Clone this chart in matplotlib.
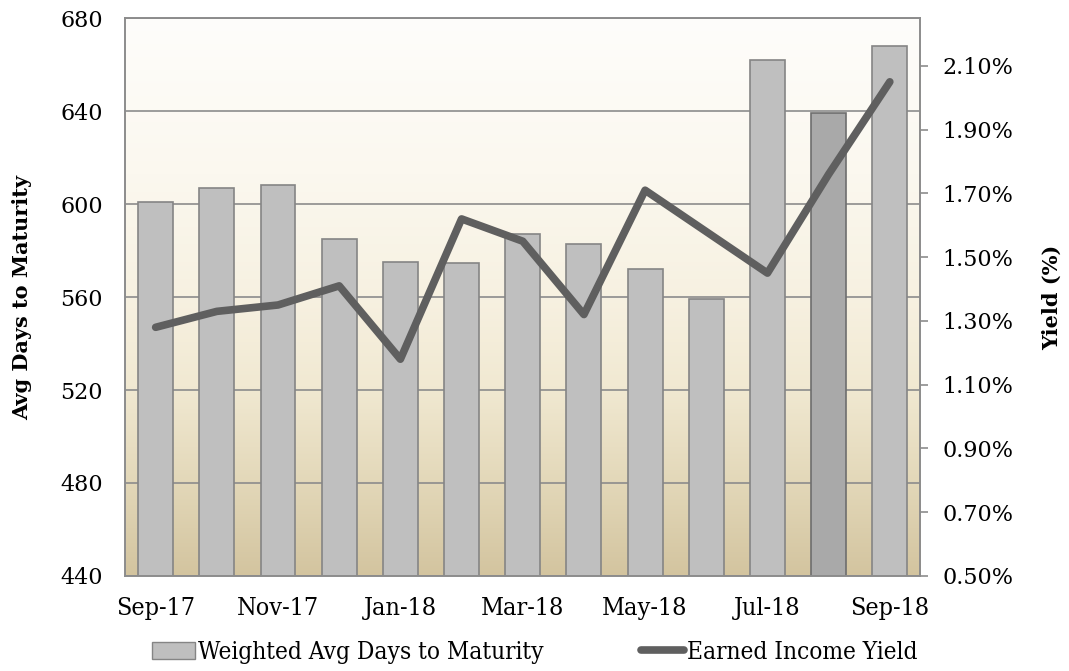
import numpy as np
import matplotlib.pyplot as plt
from matplotlib.colors import LinearSegmentedColormap
from matplotlib.patches import Patch
from matplotlib.lines import Line2D

months = ['Sep-17', 'Oct-17', 'Nov-17', 'Dec-17', 'Jan-18', 'Feb-18', 'Mar-18',
          'Apr-18', 'May-18', 'Jun-18', 'Jul-18', 'Aug-18', 'Sep-18']
days = [601, 607, 608, 585, 575, 574.5, 587, 583, 572, 559, 662, 639, 668]
yield_pct = [1.28, 1.33, 1.35, 1.41, 1.18, 1.62, 1.55, 1.32, 1.71, 1.58, 1.45, 1.76, 2.05]
yield_ticks = [0.5, 0.7, 0.9, 1.1, 1.3, 1.5, 1.7, 1.9, 2.1]

serif = 'DejaVu Serif'
cond = {'family': 'DejaVu Serif', 'stretch': 'condensed'}

fig = plt.figure(figsize=(10.69, 6.71), dpi=100)
ax = fig.add_axes([0.117, 0.1416, 0.744, 0.8315])
ax2 = ax.twinx()

# background gradient, white at top to tan at bottom
cmap = LinearSegmentedColormap.from_list('bg', [
    (0.0, '#d3c49f'), (0.17, '#e3d8b9'), (0.34, '#f1e9d2'),
    (0.5, '#f7f1e1'), (0.72, '#fbf8ef'), (1.0, '#fefdfb')], N=1024)
grad = np.linspace(0, 1, 1024).reshape(-1, 1)
ax.imshow(grad, cmap=cmap, origin='lower', aspect='auto', extent=[0, 1, 0, 1],
          transform=ax.transAxes, interpolation='bilinear', zorder=-1)

x = np.arange(len(months))
colors = ['#bfbfbf'] * len(months)
edges = ['#858585'] * len(months)
colors[11] = '#a9a9a9'
edges[11] = '#6e6e6e'
ax.bar(x, days, width=0.57, color=colors, edgecolor=edges, linewidth=1.2, zorder=2)

ax.set_xlim(-0.5, len(months) - 0.5)
ax.set_ylim(440, 680)
ax.set_yticks(np.arange(440, 681, 40))
ax.yaxis.grid(True, color='#8c8c8c', linewidth=1.2, zorder=1)
ax.set_axisbelow(True)
ax.set_xticks(x[::2])
ax.set_xticklabels(months[::2], fontsize=18, **cond)
ax.tick_params(axis='x', length=0, pad=15)
ax.tick_params(axis='y', length=0, pad=16)
for lab in ax.get_yticklabels():
    lab.set_family(serif)
    lab.set_fontsize(16)
ax.set_ylabel('Avg Days to Maturity', family=serif, fontsize=15, fontweight='bold', labelpad=20)

ax2.plot(x, yield_pct, color='#5f5f5f', linewidth=5.5, solid_capstyle='round', zorder=3)
ax2.set_ylim(0.5, 2.25)
ax2.set_yticks(yield_ticks)
ax2.set_yticklabels(['{:.2f}%'.format(v) for v in yield_ticks], family=serif, fontsize=16)
ax2.tick_params(axis='y', length=6, color='#8c8c8c', width=1.2, pad=10)
ax2.set_ylabel('Yield (%)', family=serif, fontsize=15, fontweight='bold', labelpad=20)

for a in (ax, ax2):
    for s in a.spines.values():
        s.set_color('#8c8c8c')
        s.set_linewidth(1.2)

handles = [Patch(facecolor='#bfbfbf', edgecolor='#858585'),
           Line2D([0], [0], color='#5f5f5f', linewidth=5.5, solid_capstyle='round')]
fig.legend(handles, ['Weighted Avg Days to Maturity', 'Earned Income Yield'],
           loc='center', bbox_to_anchor=(0.5, 0.028), ncol=2, frameon=False,
           prop={'size': 17.5, **cond}, handlelength=1.8, handletextpad=0.1,
           columnspacing=4.0)

fig.savefig('out.png', dpi=100)
